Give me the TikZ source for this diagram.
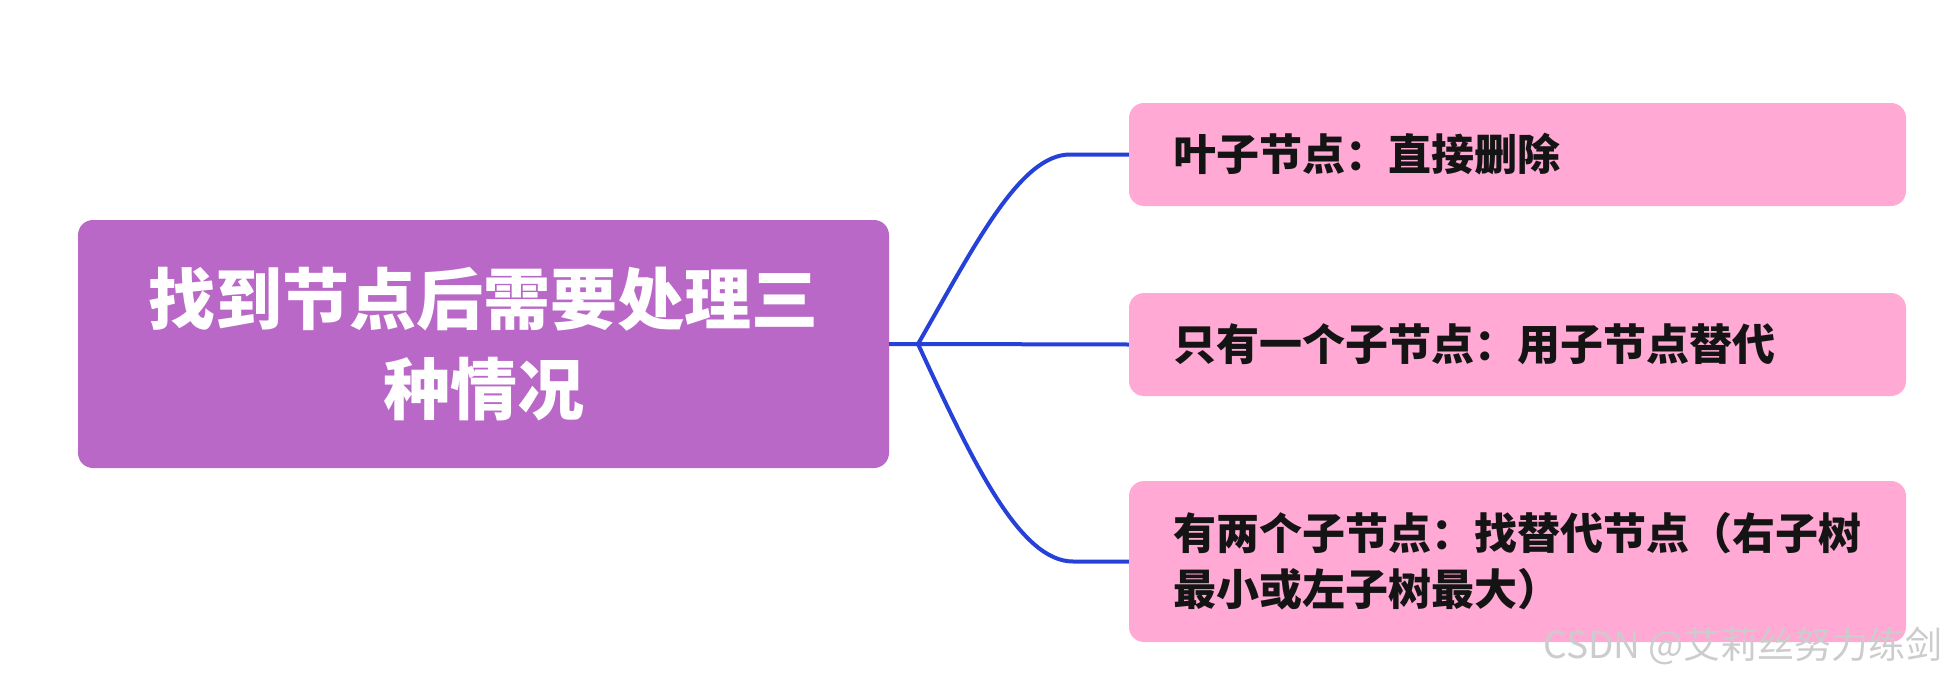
\documentclass[tikz,border=0pt]{standalone}
\usepackage{fontspec}
\newfontfamily\cjk{Noto Sans CJK SC}
\definecolor{mainfill}{HTML}{BA68C8}
\definecolor{childfill}{HTML}{FFA9D4}
\definecolor{linkblue}{HTML}{2541D8}
\definecolor{wmgray}{HTML}{CCCCCC}
\begin{document}
\begin{tikzpicture}[x=1pt,y=-1pt,
  mainbox/.style={rectangle, rounded corners=15pt, fill=mainfill, text=white,
    font=\cjk\bfseries\fontsize{67}{90}\selectfont, align=center,
    minimum width=811pt, minimum height=248pt, inner sep=0pt},
  childbox/.style={rectangle, rounded corners=15pt, fill=childfill, text=black!92,
    font=\cjk\bfseries\fontsize{43}{56}\selectfont, align=left,
    text width=689pt, inner xsep=44pt, inner ysep=0pt},
  link/.style={draw=linkblue, line width=4pt},
  watermark/.style={text=wmgray, font=\cjk\fontsize{37}{40}\selectfont, inner sep=0pt}
]
\useasboundingbox (0,0) rectangle (1946,680);
\fill[white] (0,0) rectangle (1946,680);

\node[mainbox] (main) at (483.5,344) {找到节点后需要处理三\\种情况};

\node[childbox, minimum height=103pt] (c1) at (1517.5,154.5) {叶子节点：直接删除};
\node[childbox, minimum height=103pt] (c2) at (1517.5,344.5) {只有一个子节点：用子节点替代};
\node[childbox, minimum height=161pt] (c3) at (1517.5,561.5) {有两个子节点：找替代节点（右子树\\最小或左子树最大）};

\coordinate (j) at (918,344);
\coordinate (k1) at (1070,154.5);
\coordinate (k3) at (1073,561.5);

\draw[link] (main.east) -- (j) -- (c2.west);
\draw[link] (j) .. controls (975,245) and (1020,154.5) .. (k1) -- (c1.west);
\draw[link] (j) .. controls (973,463) and (1020,561.5) .. (k3) -- (c3.west);

\node[watermark, anchor=east] (wm) at (1943,646) {CSDN @艾莉丝努力练剑};
\end{tikzpicture}
\end{document}
